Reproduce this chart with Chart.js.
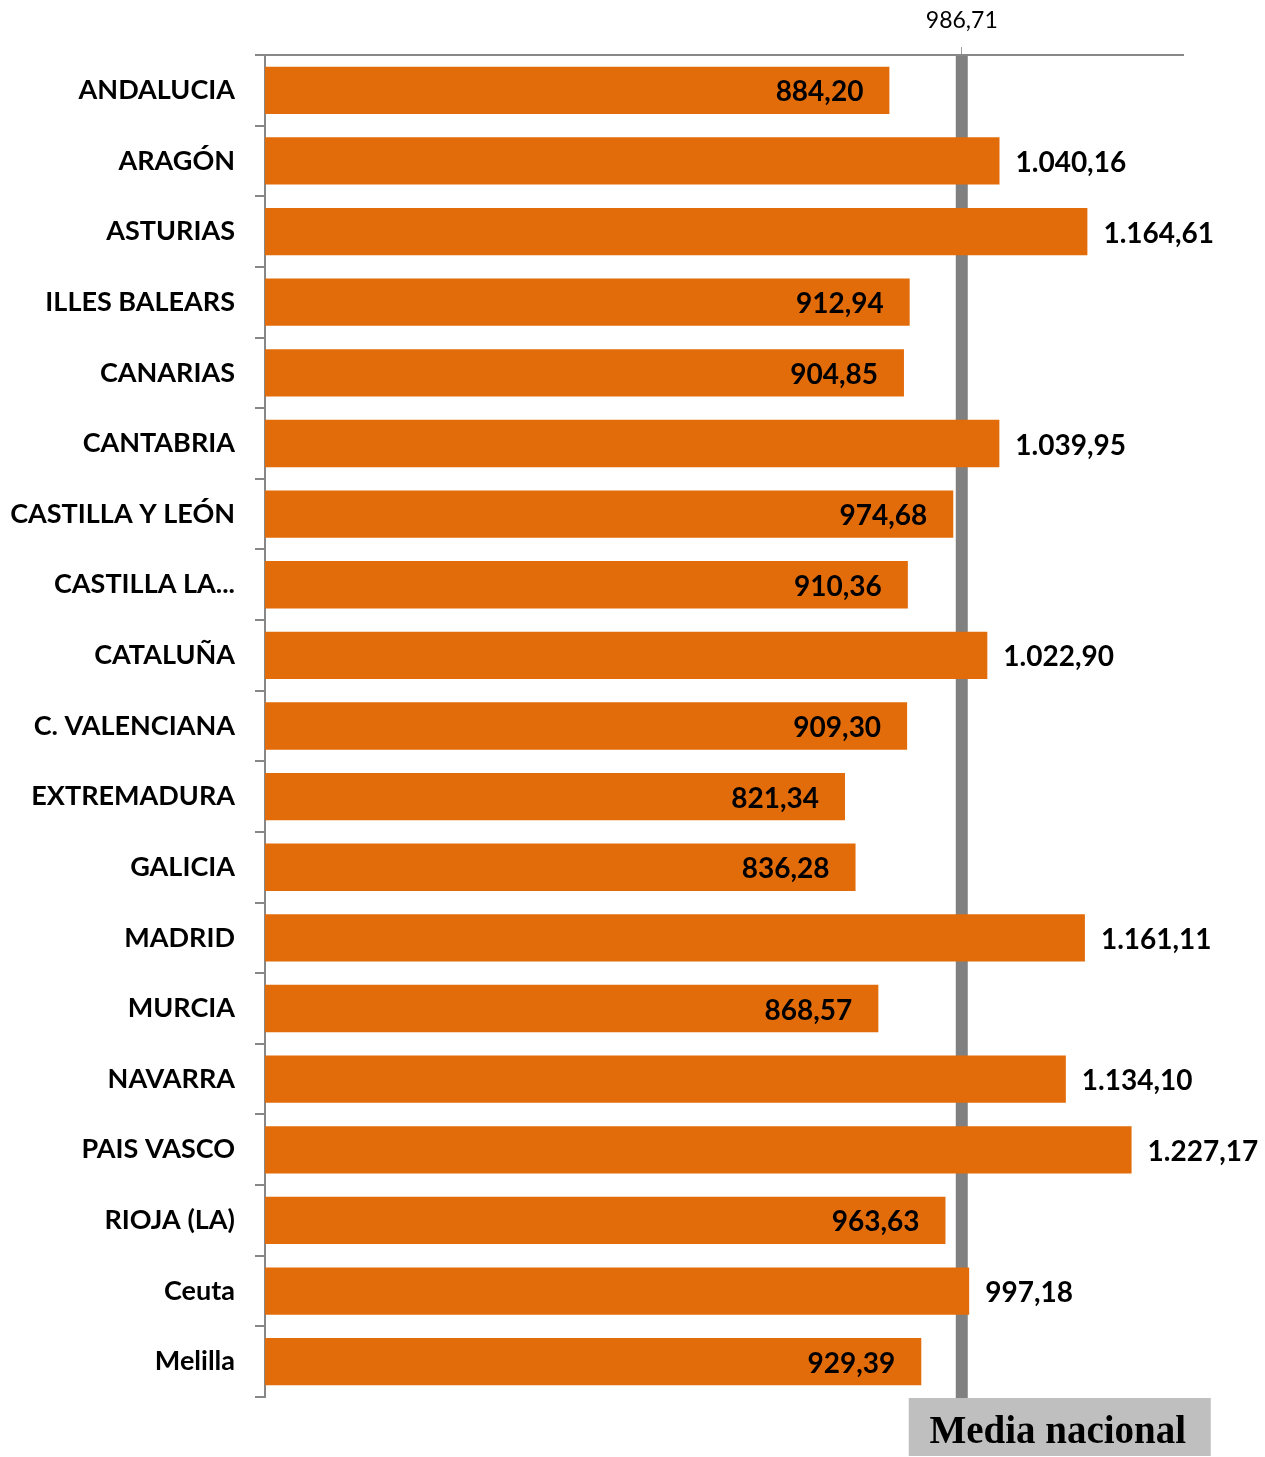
<!DOCTYPE html>
<html>
<head>
<meta charset="utf-8">
<script src="https://cdn.jsdelivr.net/npm/chart.js@4/dist/chart.umd.min.js"></script>
<style>
html,body{margin:0;padding:0;background:#fff;}
#wrap{width:1265px;height:1457px;position:relative;}
</style>
</head>
<body>
<div id="wrap"><canvas id="c" width="1265" height="1457"></canvas></div>
<script>
const categories = ['ANDALUCIA','ARAGÓN','ASTURIAS','ILLES BALEARS','CANARIAS','CANTABRIA','CASTILLA Y LEÓN','CASTILLA LA...','CATALUÑA','C. VALENCIANA','EXTREMADURA','GALICIA','MADRID','MURCIA','NAVARRA','PAIS VASCO','RIOJA (LA)','Ceuta','Melilla'];
const values = [884.20,1040.16,1164.61,912.94,904.85,1039.95,974.68,910.36,1022.90,909.30,821.34,836.28,1161.11,868.57,1134.10,1227.17,963.63,997.18,929.39];
const nationalMean = 986.71;
const meanLabel = 'Media nacional';
const axisMin = 0;
const axisMax = 1300;

function fmt(v){
  const parts = v.toFixed(2).split('.');
  const intPart = parts[0].replace(/\B(?=(\d{3})+(?!\d))/g, '.');
  return intPart + ',' + parts[1];
}

const FONT = 'Lato, "Open Sans", sans-serif';
const AXIS_COLOR = '#878787';

const meanPlugin = {
  id: 'meanPlugin',
  beforeDatasetsDraw(chart){
    const {ctx, chartArea, scales} = chart;
    const x = scales.x.getPixelForValue(nationalMean);
    ctx.save();
    ctx.fillStyle = '#808080';
    ctx.fillRect(x - 6, chartArea.top + 1, 12, chartArea.bottom - chartArea.top);
    ctx.restore();
  },
  afterDatasetsDraw(chart){
    const {ctx} = chart;
    const meta = chart.getDatasetMeta(0);
    ctx.save();
    ctx.font = 'bold 28px ' + FONT;
    ctx.fillStyle = '#000';
    ctx.textBaseline = 'middle';
    meta.data.forEach((bar, i) => {
      const v = values[i];
      const txt = fmt(v);
      if (v > nationalMean) {
        ctx.textAlign = 'left';
        ctx.fillText(txt, bar.x + 16, bar.y + 2);
      } else {
        ctx.textAlign = 'right';
        ctx.fillText(txt, bar.x - 26, bar.y + 2);
      }
    });
    ctx.restore();
  },
  afterDraw(chart){
    const {ctx, chartArea, scales} = chart;
    const x = scales.x.getPixelForValue(nationalMean);
    const bx = x - 53, by = chartArea.bottom + 1, bw = 302, bh = 58;
    ctx.save();
    ctx.fillStyle = '#BFBFBF';
    ctx.fillRect(bx, by, bw, bh);
    ctx.fillStyle = '#000';
    ctx.font = 'bold 39px "Liberation Serif", "DejaVu Serif", serif';
    ctx.textAlign = 'center';
    ctx.textBaseline = 'middle';
    ctx.fillText(meanLabel, bx + bw/2 - 2, by + bh/2 + 6);
    ctx.restore();
  }
};

new Chart(document.getElementById('c'), {
  type: 'bar',
  data: {
    labels: categories,
    datasets: [{
      data: values,
      backgroundColor: '#E36C0A',
      borderWidth: 0,
      barPercentage: 0.67,
      categoryPercentage: 1.0
    }]
  },
  options: {
    indexAxis: 'y',
    responsive: false,
    animation: false,
    layout: { padding: { top: 0, right: 82, bottom: 60, left: 0 } },
    plugins: { legend: { display: false }, tooltip: { enabled: false } },
    scales: {
      x: {
        position: 'top',
        min: axisMin,
        max: axisMax,
        afterBuildTicks(scale){ scale.ticks = [{value: nationalMean}]; },
        afterFit(scale){ scale.height = 55; },
        ticks: {
          callback(){ return fmt(nationalMean); },
          font: { family: FONT, size: 23 },
          color: '#000',
          padding: 13,
          maxRotation: 0
        },
        grid: { drawOnChartArea: false, drawTicks: true, tickLength: 8, color: '#9a9a9a', lineWidth: 1 },
        border: { display: true, color: AXIS_COLOR, width: 2 }
      },
      y: {
        afterFit(scale){ scale.width = 265; },
        ticks: {
          font: { family: FONT, size: 27, weight: 'bold' },
          color: '#000',
          padding: 20,
          autoSkip: false
        },
        grid: { offset: true, drawOnChartArea: false, drawTicks: true, tickLength: 10, color: AXIS_COLOR, lineWidth: 2 },
        border: { display: true, color: AXIS_COLOR, width: 2 }
      }
    }
  },
  plugins: [meanPlugin]
});
</script>
</body>
</html>
